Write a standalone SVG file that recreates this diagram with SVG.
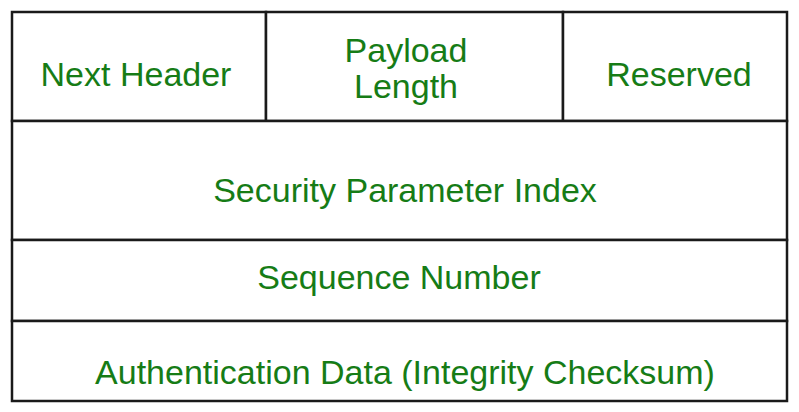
<svg xmlns="http://www.w3.org/2000/svg" width="799" height="412" viewBox="0 0 799 412">
<style>
.cell{fill:#ffffff;stroke:#1a1a1a;stroke-width:2.5}
.t{font-family:"Liberation Sans",Arial,sans-serif;font-size:34px;fill:#167c16;text-anchor:middle}
</style>
<rect width="799" height="412" fill="#ffffff"/>
<g id="next-header"><rect class="cell" x="12" y="12" width="254" height="109"/><text class="t" x="136" y="86">Next Header</text></g>
<g id="payload-length"><rect class="cell" x="266" y="12" width="297" height="109"/><text class="t" x="406" y="62">Payload</text><text class="t" x="406" y="98">Length</text></g>
<g id="reserved"><rect class="cell" x="563" y="12" width="224" height="109"/><text class="t" x="679" y="86">Reserved</text></g>
<g id="spi"><rect class="cell" x="12" y="121" width="775" height="119"/><text class="t" x="405" y="202">Security Parameter Index</text></g>
<g id="sequence-number"><rect class="cell" x="12" y="240" width="775" height="81"/><text class="t" x="399" y="289">Sequence Number</text></g>
<g id="auth-data"><rect class="cell" x="12" y="321" width="775" height="80"/><text class="t" x="405" y="384">Authentication Data (Integrity Checksum)</text></g>
<g id="connectors"></g>
</svg>
